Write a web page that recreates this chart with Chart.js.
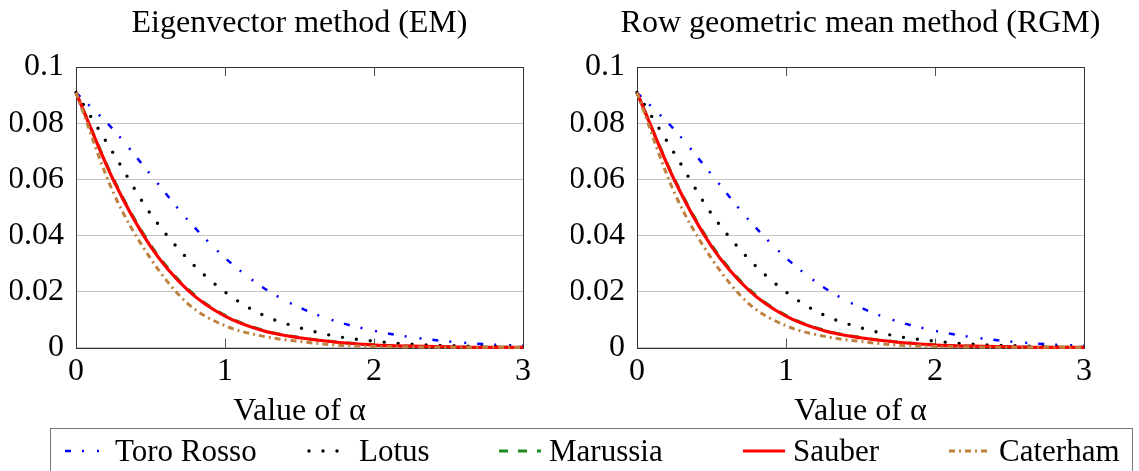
<!DOCTYPE html>
<html>
<head>
<meta charset="utf-8">
<script src="https://cdn.jsdelivr.net/npm/chart.js@4.4.1/dist/chart.umd.min.js"></script>
<style>
    body { margin: 0; background: #fff; width: 1139px; height: 471px; overflow: hidden; position: relative; font-family: "Liberation Serif", "DejaVu Serif", serif; }
    canvas.plot { position: absolute; top: 0; }
    #legend { position: absolute; left: 50px; top: 428px; width: 1083px; height: 60px; border: 1.5px solid #777; box-sizing: border-box; }
    .item { position: absolute; top: 0; height: 44px; display: flex; align-items: center; font-size: 31px; color: #000; white-space: nowrap; }
    .item canvas { margin-right: 6px; }
</style>
</head>
<body>
<canvas id="em" class="plot" width="600" height="440" style="left:0"></canvas>
<canvas id="rgm" class="plot" width="600" height="440" style="left:561px"></canvas>
<div id="legend"></div>
<script>
// values (both methods give almost the same curves)
const alpha      = [0, 0.25, 0.5, 0.75, 1, 1.25, 1.5, 1.75, 2, 2.25, 2.5, 2.75, 3];
const toroRosso  = [0.0909, 0.0777, 0.0617, 0.0455, 0.0320, 0.0216, 0.0143, 0.0093, 0.0060, 0.0037, 0.0022, 0.0012, 0.0007];
const lotus      = [0.0909, 0.0693, 0.0477, 0.0316, 0.0198, 0.0117, 0.0071, 0.0040, 0.0023, 0.0012, 0.0007, 0.0004, 0.0002];
const marussia   = [0.0909, 0.0602, 0.0366, 0.0209, 0.0115, 0.0063, 0.0036, 0.0020, 0.0010, 0.0005, 0.0003, 0.0001, 0.0001];
const sauber     = [0.0909, 0.0598, 0.0361, 0.0205, 0.0112, 0.0061, 0.0035, 0.0019, 0.0009, 0.0005, 0.0003, 0.0001, 0.0001];
const caterham   = [0.0909, 0.0553, 0.0318, 0.0157, 0.0078, 0.0041, 0.0022, 0.0009, 0.0004, 0.0002, 0.0001, 0.0001, 0.0000];

const teams = ['Toro Rosso', 'Lotus', 'Marussia', 'Sauber', 'Caterham'];
const xTickLabels = ['0', '1', '2', '3'];
const yTickLabels = ['0', '0.02', '0.04', '0.06', '0.08', '0.1'];

const styles = [
    { color: '#0000ff', width: 2.5, dash: [6, 11, 2, 13, 2, 11], cap: 'butt' },
    { color: '#000000', width: 3.4, dash: [0, 14], cap: 'round' },
    { color: '#1f8c1f', width: 3, dash: [9, 10], cap: 'butt' },
    { color: '#ff0000', width: 3.2, dash: [], cap: 'butt' },
    { color: '#bf8040', width: 3, dash: [6, 4, 2, 4], cap: 'butt' }
];
const series = [toroRosso, lotus, marussia, sauber, caterham];

const FONT = "'Liberation Serif', 'DejaVu Serif', serif";

// box round the plot area and the small inward ticks on the x axis
const framePlugin = {
    id: 'frame',
    beforeDatasetsDraw(chart) {
        const { ctx, chartArea: a, scales: { x } } = chart;
        ctx.save();
        ctx.strokeStyle = '#555';
        ctx.lineWidth = 1;
        ctx.beginPath();
        x.ticks.forEach(t => {
            const px = Math.round(x.getPixelForValue(t.value)) + 0.5;
            ctx.moveTo(px, a.top); ctx.lineTo(px, a.top + 9);
            ctx.moveTo(px, a.bottom); ctx.lineTo(px, a.bottom - 9);
        });
        ctx.stroke();
        ctx.strokeStyle = '#333';
        ctx.strokeRect(Math.round(a.left) + 0.5, Math.round(a.top) + 0.5,
            Math.round(a.right - a.left), Math.round(a.bottom - a.top));
        ctx.restore();
    }
};

function makeChart(id, title) {
    const datasets = teams.map((name, i) => ({
        label: name,
        data: alpha.map((a, j) => ({ x: a, y: series[i][j] })),
        borderColor: styles[i].color,
        borderWidth: styles[i].width,
        borderDash: styles[i].dash,
        borderCapStyle: styles[i].cap,
        pointRadius: 0,
        cubicInterpolationMode: 'monotone',
        fill: false,
        clip: 6,
        order: teams.length - 1 - i
    }));

    return new Chart(document.getElementById(id), {
        type: 'line',
        data: { datasets },
        plugins: [framePlugin],
        options: {
            responsive: false,
            animation: false,
            devicePixelRatio: 1,
            layout: { padding: { left: 10, right: 11, top: 0, bottom: 9 } },
            plugins: {
                legend: { display: false },
                tooltip: { enabled: false },
                title: {
                    display: true,
                    text: title,
                    color: '#000',
                    font: { family: FONT, size: 32, weight: 'normal', lineHeight: 1.2 },
                    padding: { top: 4, bottom: 24.6 }
                }
            },
            scales: {
                x: {
                    type: 'linear',
                    min: 0,
                    max: 3,
                    grid: { display: false },
                    border: { display: false },
                    ticks: {
                        stepSize: 1,
                        color: '#000',
                        padding: 0,
                        font: { family: FONT, size: 32, lineHeight: 1 },
                        callback: (v) => xTickLabels[Math.round(v)]
                    },
                    title: {
                        display: true,
                        text: 'Value of α',
                        color: '#000',
                        font: { family: FONT, size: 32, lineHeight: 1.2 },
                        padding: { top: 5, bottom: 0 }
                    }
                },
                y: {
                    min: 0,
                    max: 0.1,
                    grid: { color: '#c4c4c4', lineWidth: 1, drawTicks: false },
                    border: { display: false },
                    afterFit: (scale) => { scale.width = 66; },
                    ticks: {
                        stepSize: 0.02,
                        color: '#000',
                        padding: 12,
                        font: { family: FONT, size: 32 },
                        callback: (v) => yTickLabels[Math.round(v / 0.02)]
                    }
                },
                // empty right axis, same width as the left one, so the title sits over the plot
                yRight: {
                    position: 'right',
                    min: 0,
                    max: 0.1,
                    grid: { display: false },
                    border: { display: false },
                    ticks: { display: false },
                    afterFit: (scale) => { scale.width = 66; }
                }
            }
        }
    });
}

makeChart('em', 'Eigenvector method (EM)');
makeChart('rgm', 'Row geometric mean method (RGM)');

// legend shared by both plots
const legendLeft = [12, 256, 446, 690, 896];
const legend = document.getElementById('legend');
teams.forEach((name, i) => {
    const item = document.createElement('div');
    item.className = 'item';
    item.style.left = legendLeft[i] + 'px';
    const sw = document.createElement('canvas');
    sw.width = 46; sw.height = 12;
    const c = sw.getContext('2d');
    c.strokeStyle = styles[i].color;
    c.lineWidth = styles[i].width;
    c.lineCap = styles[i].cap;
    c.setLineDash(styles[i].dash);
    c.beginPath(); c.moveTo(2, 6); c.lineTo(44, 6); c.stroke();
    const label = document.createElement('span');
    label.textContent = name;
    item.appendChild(sw);
    item.appendChild(label);
    legend.appendChild(item);
});
</script>
</body>
</html>
